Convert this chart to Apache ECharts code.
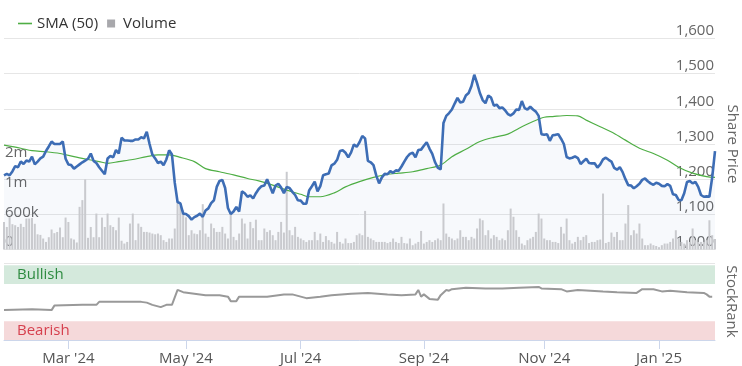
<!DOCTYPE html>
<html><head><meta charset="utf-8">
<script src="https://cdn.jsdelivr.net/npm/echarts@6/dist/echarts.min.js"></script>
<style>html,body{margin:0;padding:0;background:#fff}#c{width:742px;height:366px}</style>
</head><body><div id="c"></div>
<script>
// ---------- DATA ----------
const startDate = '2024-01-29';
const endDate = '2025-02-03';
const marketHolidays = ['2024-02-19','2024-03-29','2024-05-27','2024-06-19','2024-07-04','2024-09-02','2024-11-28','2024-12-25','2025-01-01','2025-01-09','2025-01-20'];

const price = [
1211,1215,1211,1222,1237,1234,1250,1243,1253,1250,
1264,1242,1250,1259,1264,1280,1293,1307,1300,1300,
1300,1307,1258,1242,1240,1230,1236,1242,1248,1253,
1258,1273,1252,1246,1234,1224,1214,1259,1266,1262,
1283,1273,1318,1310,1310,1309,1309,1313,1313,1319,
1316,1335,1300,1270,1259,1246,1250,1240,1256,1282,
1270,1190,1135,1131,1102,1101,1095,1085,1092,1096,
1102,1093,1111,1117,1132,1140,1178,1195,1198,1175,
1118,1101,1108,1121,1108,1165,1160,1150,1154,1145,
1160,1172,1180,1182,1200,1180,1160,1182,1187,1176,
1160,1178,1175,1164,1155,1140,1139,1130,1130,1168,
1180,1193,1165,1180,1211,1214,1216,1239,1244,1255,
1280,1282,1275,1262,1276,1299,1292,1305,1323,1316,
1252,1248,1240,1210,1188,1205,1215,1214,1223,1218,
1225,1224,1236,1250,1263,1272,1275,1262,1283,1284,
1295,1305,1287,1272,1248,1232,1228,1360,1380,1388,
1398,1415,1431,1418,1420,1438,1445,1465,1497,1473,
1445,1425,1416,1438,1432,1409,1412,1402,1404,1396,
1385,1381,1387,1398,1397,1422,1402,1398,1406,1398,
1392,1380,1328,1326,1328,1309,1325,1326,1328,1315,
1300,1263,1259,1261,1265,1260,1243,1251,1258,1246,
1245,1245,1233,1242,1256,1261,1255,1250,1232,1227,
1234,1220,1200,1183,1182,1174,1180,1187,1198,1202,
1194,1188,1184,1190,1187,1181,1180,1186,1181,1157,
1155,1141,1140,1160,1192,1195,1188,1192,1178,1155,
1150,1151,1150,1205,1280];

// volume in thousands of shares
const volumeK = [
557,455,657,511,490,455,519,455,625,625,
637,519,307,295,222,153,248,404,330,354,
444,248,645,555,224,201,142,861,997,1416,
236,455,248,726,248,645,455,726,490,455,
389,645,177,120,153,524,726,189,524,457,
355,355,342,322,307,322,289,188,153,222,
222,424,962,873,791,649,289,389,322,309,
389,915,322,255,524,431,355,355,457,322,
222,726,255,188,322,625,524,222,557,431,
602,188,188,424,355,389,289,188,355,557,
342,1569,389,289,457,255,222,188,153,188,
188,355,188,322,153,271,188,153,120,355,
153,120,222,130,130,153,289,322,289,779,
255,222,188,153,153,153,153,130,153,222,
153,130,255,130,120,222,87,120,153,375,
120,153,188,153,188,222,188,929,322,255,
222,188,222,389,255,255,188,255,222,425,
625,590,289,389,222,289,255,188,222,188,
389,826,661,389,255,120,87,188,222,255,
355,726,625,222,188,188,153,153,130,457,
322,625,188,120,153,255,188,255,289,130,
153,153,188,201,1130,130,153,342,255,354,
188,188,524,897,289,389,322,524,222,87,
87,120,87,71,47,87,120,120,153,222,
389,222,153,120,188,153,425,188,153,153,
153,188,590,289,212];

const smaDates = ['2024-01-29','2024-02-06','2024-02-12','2024-02-20','2024-02-27','2024-03-05','2024-03-12','2024-03-18','2024-03-21','2024-03-27',
'2024-04-04','2024-04-11','2024-04-17','2024-04-23','2024-04-29','2024-05-06','2024-05-10','2024-05-17','2024-05-24','2024-06-03',
'2024-06-07','2024-06-14','2024-06-24','2024-07-01','2024-07-05','2024-07-11','2024-07-18','2024-07-24','2024-07-31','2024-08-07',
'2024-08-14','2024-08-20','2024-08-27','2024-09-04','2024-09-11','2024-09-17','2024-09-24','2024-10-01','2024-10-08','2024-10-15',
'2024-10-21','2024-10-28','2024-11-01','2024-11-06','2024-11-13','2024-11-19','2024-11-22','2024-12-02','2024-12-09','2024-12-13',
'2024-12-20','2024-12-30','2025-01-07','2025-01-14','2025-01-22','2025-01-29','2025-02-03'];
const smaValues = [1297,1288,1281,1278,1273,1264,1256,1250,1245,1250,
1256,1264,1269,1269,1262,1250,1230,1221,1212,1202,
1195,1183,1169,1157,1150,1150,1161,1178,1193,1205,
1214,1217,1221,1230,1240,1264,1285,1307,1319,1328,
1345,1364,1376,1378,1381,1380,1368,1349,1330,1311,
1288,1273,1254,1234,1217,1207,1205];

const rankDates = ['2024-01-29','2024-02-12','2024-02-22','2024-02-23','2024-03-08','2024-03-15','2024-03-18','2024-04-09','2024-04-11','2024-04-15',
'2024-04-18','2024-04-22','2024-04-24','2024-04-26','2024-04-30','2024-05-06','2024-05-10','2024-05-17','2024-05-22','2024-05-23',
'2024-05-28','2024-05-29','2024-06-05','2024-06-12','2024-06-21','2024-06-26','2024-07-03','2024-07-11','2024-07-17','2024-07-26',
'2024-08-05','2024-08-14','2024-08-21','2024-08-28','2024-08-29','2024-08-30','2024-09-03','2024-09-05','2024-09-10','2024-09-11',
'2024-09-13','2024-09-16','2024-09-17','2024-09-24','2024-10-03','2024-10-11','2024-10-21','2024-10-30','2024-10-31','2024-11-11',
'2024-11-13','2024-11-19','2024-12-03','2024-12-10','2024-12-19','2024-12-23','2024-12-30','2025-01-03','2025-01-08','2025-01-17',
'2025-01-28','2025-01-29','2025-01-30','2025-01-31'];
const rankValues = [40,41,40,46,47,47,51,51,50,47,
44,47,47,67,64,62,60,60,58,52,
52,58,58,58,61,61,56,58,60,62,
63,61,60,61,67,58,61,55,54,60,
67,66,68,70,69,69,70,71,69,68,
65,67,65,64,63,68,68,65,66,64,
63,61,58,58];

const tickMonths = ['2024-03','2024-05','2024-07','2024-09','2024-11','2025-01'];
const tickLabels = ["Mar '24","May '24","Jul '24","Sep '24","Nov '24","Jan '25"];
const volumeTickLabels = {0:'0',600:'600k',1200:'1m',1800:'2m'};
const bands = [{name:'Bullish',from:75,to:100},{name:'Bearish',from:0,to:25}];

// ---------- BUILD ----------
function tradingDays(){
  const out=[]; const d=new Date(startDate+'T00:00:00Z'); const end=new Date(endDate+'T00:00:00Z');
  while(d<=end){
    const s=d.toISOString().slice(0,10); const wd=d.getUTCDay();
    if(wd!==0&&wd!==6&&marketHolidays.indexOf(s)<0) out.push(s);
    d.setUTCDate(d.getUTCDate()+1);
  }
  return out;
}
const dates = tradingDays();
const tickIndex = {};
tickMonths.forEach((m,k)=>{const i=dates.findIndex(d=>d.startsWith(m)); if(i>=0) tickIndex[i]=tickLabels[k];});
const isTick = (i)=> Object.prototype.hasOwnProperty.call(tickIndex,i);

const FONT='Open Sans';
const SMA_COLOR='#4fae45';
const chart = echarts.init(document.getElementById('c'), null, {renderer:'canvas'});
const option = {
  animation:false,
  textStyle:{fontFamily:FONT},
  legend:{
    left:13, top:11, itemWidth:14, itemHeight:8, itemGap:9, symbolKeepAspect:true,
    textStyle:{fontSize:15,color:'#333',fontFamily:FONT},
    data:[
      {name:'SMA (50)', icon:'path://M0 0H14V1.6H0Z', itemStyle:{color:SMA_COLOR}},
      {name:'Volume', icon:'path://M0 0H8V8H0Z', itemStyle:{color:'#a8a8ac'}}
    ]
  },
  grid:[
    {left:4,right:27,top:38.5,height:211,containLabel:false,outerBoundsMode:'none'},
    {left:4,right:27,top:263,height:77,containLabel:false,outerBoundsMode:'none'}
  ],
  xAxis:[
    {type:'category',gridIndex:0,data:dates,boundaryGap:false,show:false},
    {type:'category',gridIndex:1,data:dates,boundaryGap:false,
      axisLine:{show:true,lineStyle:{color:'#ccd6eb'}},
      axisTick:{show:true,interval:(i)=>isTick(i),length:9,lineStyle:{color:'#ccd6eb'}},
      axisLabel:{interval:(i)=>isTick(i),formatter:(v,i)=>tickIndex[i]||'',fontSize:15,color:'#555',margin:11,fontFamily:FONT},
      splitLine:{show:false}}
  ],
  yAxis:[
    {type:'value',gridIndex:0,position:'right',min:1000,max:1600,interval:100,
      name:'Share Price',nameLocation:'middle',nameRotate:-90,nameGap:8,
      nameTextStyle:{fontSize:15,color:'#666',fontFamily:FONT},
      axisLine:{show:false},axisTick:{show:false},
      axisLabel:{inside:true,margin:1,verticalAlign:'bottom',fontSize:15,color:'#666',fontFamily:FONT,
        formatter:(v)=>v.toLocaleString('en-US')},
      splitLine:{show:true,lineStyle:{color:'#e6e6e6'}}},
    {type:'value',gridIndex:0,position:'left',min:0,max:4260,interval:600,
      axisLine:{show:false},axisTick:{show:false},splitLine:{show:false},
      axisLabel:{inside:true,margin:1,verticalAlign:'bottom',fontSize:15,color:'#666',fontFamily:FONT,
        formatter:(v)=>volumeTickLabels[v]||''}},
    {type:'value',gridIndex:1,position:'right',min:0,max:103,interval:103,
      name:'StockRank',nameLocation:'middle',nameRotate:-90,nameGap:8,
      nameTextStyle:{fontSize:15,color:'#666',fontFamily:FONT},
      axisLine:{show:false},axisTick:{show:false},
      axisLabel:{inside:true,margin:2,verticalAlign:'bottom',fontSize:15,color:'#666',fontFamily:FONT,
        formatter:(v)=>v===0?'0':''},
      splitLine:{show:true,lineStyle:{color:'#e6e6e6'}}}
  ],
  series:[
    {type:'line',xAxisIndex:0,yAxisIndex:0,data:price,symbol:'none',silent:true,z:1,
      lineStyle:{width:0},areaStyle:{color:'rgba(60,110,180,0.06)',origin:'start'}},
    {type:'bar',name:'Volume',xAxisIndex:0,yAxisIndex:1,data:volumeK,barWidth:2,silent:true,z:2,
      itemStyle:{color:'#c9cace'}},
    {type:'line',name:'SMA (50)',xAxisIndex:0,yAxisIndex:0,data:smaDates.map((d,i)=>[d,smaValues[i]]),
      symbol:'none',smooth:0.3,silent:true,z:3,lineStyle:{color:SMA_COLOR,width:1.2},itemStyle:{color:SMA_COLOR}},
    {type:'line',xAxisIndex:0,yAxisIndex:0,data:price,symbol:'none',silent:true,z:4,
      lineStyle:{color:'#3d6db5',width:2.6}},
    {type:'line',xAxisIndex:1,yAxisIndex:2,data:rankDates.map((d,i)=>[d,rankValues[i]]),
      symbol:'none',silent:true,z:3,lineStyle:{color:'#999',width:2},
      markArea:{silent:true,
        label:{show:true,position:'insideLeft',distance:13,fontSize:15,fontFamily:FONT},
        data:[
          [{name:bands[0].name,yAxis:bands[0].from,itemStyle:{color:'#d4e9dc'},label:{color:'#2e8b40'}},{yAxis:bands[0].to}],
          [{name:bands[1].name,yAxis:bands[1].from,itemStyle:{color:'#f5d9da'},label:{color:'#d6404e'}},{yAxis:bands[1].to}]
        ]}}
  ]
};
chart.setOption(option);
</script></body></html>
